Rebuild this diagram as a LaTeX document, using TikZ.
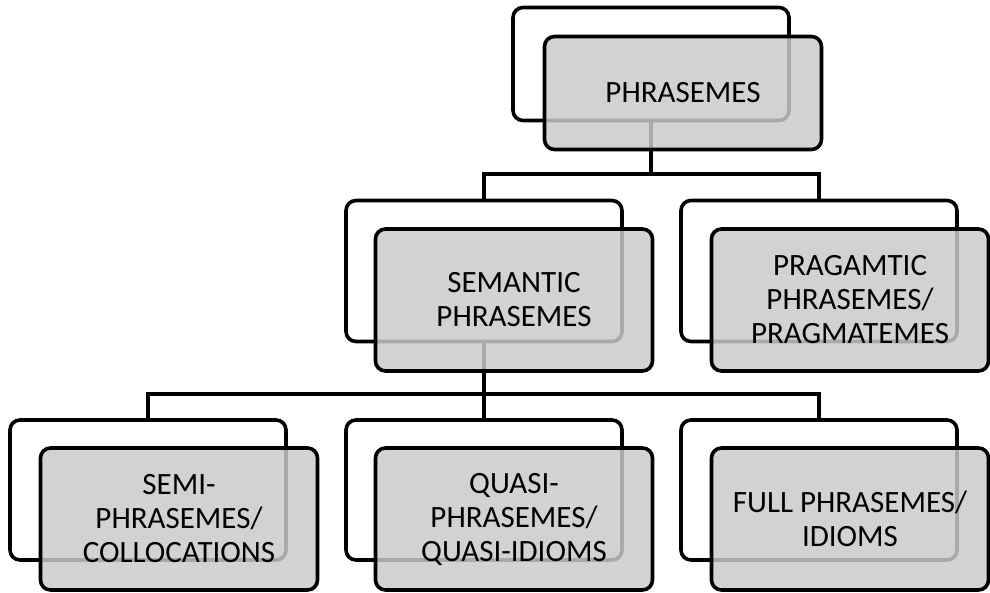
\documentclass[tikz,border=0pt]{standalone}
\usepackage{fontspec}
\setmainfont{Carlito}
\begin{document}
\begin{tikzpicture}[x=1pt,y=-1pt,
  backbox/.style={draw=black, line width=3.6pt, rounded corners=10pt, fill=white,
    minimum width=276pt, inner sep=0pt},
  frontbox/.style={draw=black, line width=3.6pt, rounded corners=10pt,
    fill={rgb,255:red,202;green,202;blue,202}, fill opacity=0.84, text opacity=1,
    minimum width=277pt, inner sep=0pt, align=center,
    font=\fontsize{31}{34}\selectfont},
  link/.style={draw=black, line width=3.6pt}]
\useasboundingbox (0,0) rectangle (990,592);

% connector junction points
\coordinate (j1) at (651,174);
\coordinate (j2) at (484,394);

% back frames
\node[backbox, minimum height=113pt] (topB) at (651,64) {};
\node[backbox, minimum height=141pt] (semB) at (484,271) {};
\node[backbox, minimum height=141pt] (praB) at (819,271) {};
\node[backbox, minimum height=140pt] (semiB) at (148,490) {};
\node[backbox, minimum height=140pt] (quasiB) at (484,490) {};
\node[backbox, minimum height=140pt] (fullB) at (819,490) {};

% connectors
\draw[link] (topB.south) -- (j1);
\draw[link] (semB.north) |- (j1) -| (praB.north);
\draw[link] (semB.south) -- (j2);
\draw[link] (semiB.north) |- (j2) -| (fullB.north);
\draw[link] (j2) -- (quasiB.north);

% front boxes with the labels
\node[frontbox, minimum height=113pt] (topF) at (683,93) {PHRASEMES};
\node[frontbox, minimum height=142pt] (semF) at (514,300) {SEMANTIC\\PHRASEMES};
\node[frontbox, minimum height=142pt] (praF) at (850,300) {PRAGAMTIC\\PHRASEMES/\\PRAGMATEMES};
\node[frontbox, minimum height=142pt] (semiF) at (179,519) {SEMI-\\PHRASEMES/\\COLLOCATIONS};
\node[frontbox, minimum height=142pt] (quasiF) at (514,519) {QUASI-\\PHRASEMES/\\QUASI-IDIOMS};
\node[frontbox, minimum height=142pt] (fullF) at (850,519) {FULL PHRASEMES/\\IDIOMS};
\end{tikzpicture}
\end{document}
